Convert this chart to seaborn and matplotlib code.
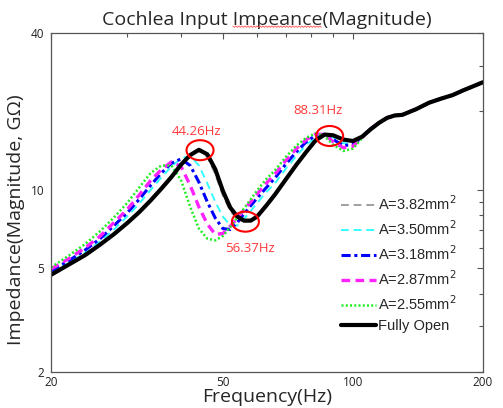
import numpy as np
import pandas as pd
import matplotlib
matplotlib.use("Agg")
import matplotlib.pyplot as plt
import matplotlib.transforms as mtransforms
from matplotlib.patches import Ellipse
from matplotlib.lines import Line2D
from matplotlib.ticker import FixedLocator, NullFormatter, FixedFormatter
import seaborn as sns

# Frequency grid (Hz)
freq = [20, 22, 24, 26, 28, 30, 32, 34, 36, 38, 40, 42, 44, 46, 48, 50, 52, 54, 56, 58,
        60, 63, 66, 70, 74, 78, 82, 86, 90, 95, 100, 105, 110, 115, 120, 125, 130, 140,
        150, 160, 170, 180, 190, 200]

# Shared high-frequency tail (115 Hz and above)
tail = [18.1, 18.9, 19.3, 19.4, 20.4, 21.6, 22.4, 23.1, 24.1, 25.0, 25.9]

# Input impedance magnitude (GOhm) for each opening area
z_382 = [4.74, 5.18, 5.64, 6.2, 6.8, 7.5, 8.28, 9.2, 10.2, 11.35, 12.65, 13.7, 14.1, 13.4,
         11.5, 9.5, 8.3, 7.7, 7.55, 7.65, 7.95, 8.8, 9.7, 11.1, 12.6, 14.1, 15.55, 16.3, 16.15,
         15.5, 15.35, 16.0, 17.1] + tail
z_350 = [4.82, 5.25, 5.75, 6.35, 7.05, 7.9, 8.85, 10.0, 11.15, 12.3, 13.2, 13.5, 12.4, 10.6,
         9.0, 7.9, 7.3, 7.3, 7.75, 8.3, 8.9, 9.8, 10.6, 12.1, 13.5, 14.9, 15.9, 16.35, 15.9,
         15.1, 15.1, 16.0, 17.2] + tail
z_318 = [4.89, 5.35, 5.88, 6.5, 7.3, 8.15, 9.2, 10.4, 11.6, 12.65, 13.15, 12.4, 10.7, 9.0,
         7.8, 7.1, 7.05, 7.5, 8.1, 8.7, 9.3, 10.2, 11.1, 12.6, 14.0, 15.3, 16.2, 16.35, 15.6,
         14.8, 14.9, 15.95, 17.2] + tail
z_287 = [4.97, 5.45, 6.0, 6.65, 7.5, 8.4, 9.55, 10.85, 11.95, 12.8, 12.3, 10.4, 8.6, 7.4,
         6.75, 6.8, 7.25, 7.8, 8.4, 9.0, 9.65, 10.6, 11.5, 13.0, 14.4, 15.6, 16.4, 16.3, 15.3,
         14.5, 14.7, 15.9, 17.2] + tail
z_255 = [5.04, 5.6, 6.2, 6.95, 7.85, 8.9, 10.2, 11.6, 12.4, 12.4, 10.9, 8.6, 7.1, 6.5,
         6.4, 6.65, 7.2, 7.85, 8.5, 9.2, 9.95, 11.0, 11.9, 13.4, 14.8, 15.85, 16.5, 16.1, 14.9,
         14.1, 14.4, 15.8, 17.2] + tail
z_open = [4.72, 5.17, 5.62, 6.17, 6.77, 7.45, 8.21, 9.1, 10.1, 11.2, 12.5, 13.6, 14.25, 13.7,
          12.0, 9.9, 8.55, 7.9, 7.62, 7.62, 7.9, 8.7, 9.6, 11.0, 12.5, 14.0, 15.5, 16.3, 16.2,
          15.6, 15.4, 16.0, 17.1] + tail

labels = ["A=3.82mm$^2$", "A=3.50mm$^2$", "A=3.18mm$^2$", "A=2.87mm$^2$",
          "A=2.55mm$^2$", "Fully Open"]
series = [z_382, z_350, z_318, z_287, z_255, z_open]

# Marked resonance / anti-resonance points (Hz, GOhm)
mark_freq = [44.26, 56.37, 88.31]
mark_z = [14.2, 7.55, 16.1]
mark_text = ["44.26Hz", "56.37Hz", "88.31Hz"]

x_ticks = [20, 50, 100, 200]
y_ticks = [2, 5, 10, 40]

styles = [
    dict(color="#a0a0a0", lw=1.4, dashes=(4, 2.5)),
    dict(color="#33ffff", lw=1.4, dashes=(4, 2.5)),
    dict(color="#0000ff", lw=2.2, dashes=(3, 1.2, 1, 1.2)),
    dict(color="#ff22ff", lw=2.4, dashes=(2.6, 1.6)),
    dict(color="#22ee22", lw=1.8, dashes=(0.8, 0.9)),
    dict(color="black", lw=3.0, dashes=None),
]

sns.set_style("white")
plt.rcParams["font.family"] = ["Open Sans", "DejaVu Sans"]

fig = plt.figure(figsize=(5.03, 4.08), dpi=100)
ax = fig.add_axes([51 / 503, 36 / 408, 432 / 503, 339 / 408])

for z, lab, st in zip(series, labels, styles):
    df = pd.DataFrame({"f": freq, "z": z})
    kws = dict(color=st["color"], lw=st["lw"], label=lab)
    if st["dashes"] is not None:
        kws["dashes"] = st["dashes"]
    sns.lineplot(data=df, x="f", y="z", ax=ax, sort=False, **kws)

ax.set_xscale("log")
ax.set_yscale("log")
ax.set_xlim(20, 200)
ax.set_ylim(2, 40)

ax.xaxis.set_major_locator(FixedLocator(x_ticks))
ax.xaxis.set_major_formatter(FixedFormatter([str(v) for v in x_ticks]))
ax.xaxis.set_minor_locator(FixedLocator([30, 40, 60, 70, 80, 90]))
ax.xaxis.set_minor_formatter(NullFormatter())
ax.yaxis.set_major_locator(FixedLocator(y_ticks))
ax.yaxis.set_major_formatter(FixedFormatter([str(v) for v in y_ticks]))
ax.yaxis.set_minor_locator(FixedLocator([3, 4, 6, 7, 8, 9, 20, 30]))
ax.yaxis.set_minor_formatter(NullFormatter())

ax.tick_params(which="both", direction="in", top=True, right=True,
               color="#555555", width=0.8, labelsize=8.5, labelcolor="#222222")
ax.tick_params(axis="x", pad=3)
ax.tick_params(axis="y", pad=5)
ax.tick_params(which="major", length=4)
ax.tick_params(which="minor", length=3)
for sp in ax.spines.values():
    sp.set_color("#555555")
    sp.set_linewidth(0.9)

ax.set_xlabel("Frequency(Hz)", fontsize=14, labelpad=-1)
ax.set_ylabel("Impedance(Magnitude, GΩ)", fontsize=14, labelpad=1)
ax.yaxis.set_label_coords(-0.06, 0.45)
title_txt = "Cochlea Input Impeance(Magnitude)"
title = ax.set_title(title_txt, fontsize=14, pad=6)

# Red rings around the marked points, sized in screen units
for fx, fz in zip(mark_freq, mark_z):
    trans = fig.dpi_scale_trans + mtransforms.ScaledTranslation(fx, fz, ax.transData)
    ax.add_patch(Ellipse((0, 0), 0.27, 0.20, transform=trans, fill=False,
                         edgecolor="#ff0000", lw=1.5, zorder=10, clip_on=False))

offsets = [(-4, 19), (5, -27), (-12, 25)]
for fx, fz, txt, off in zip(mark_freq, mark_z, mark_text, offsets):
    ax.annotate(txt, (fx, fz), xytext=off, textcoords="offset pixels",
                ha="center", va="center", color="#ff3a3a", fontsize=9.5)

leg = ax.legend(loc="upper left", bbox_to_anchor=(0.658, 0.54), frameon=False,
                prop={"family": "Liberation Sans", "size": 10.5},
                handlelength=2.4, handletextpad=0.1, labelspacing=0.42,
                borderaxespad=0)

# Wavy underline beneath the misspelt word of the title
fig.canvas.draw()
renderer = fig.canvas.get_renderer()
tb = title.get_window_extent(renderer)
prop = title.get_fontproperties()
w_pre = renderer.get_text_width_height_descent("Cochlea Input ", prop, ismath=False)[0]
w_word = renderer.get_text_width_height_descent("Impeance", prop, ismath=False)[0]
x0 = tb.x0 + w_pre
wx = np.arange(x0, x0 + w_word, 1.5)
base = tb.y0 + 2
wy = base + np.where(np.arange(len(wx)) % 2 == 0, 0.7, -0.7)
fig.add_artist(Line2D(wx, wy, color="#ff5555", lw=0.6, transform=None))

fig.savefig("out.png", dpi=100)
